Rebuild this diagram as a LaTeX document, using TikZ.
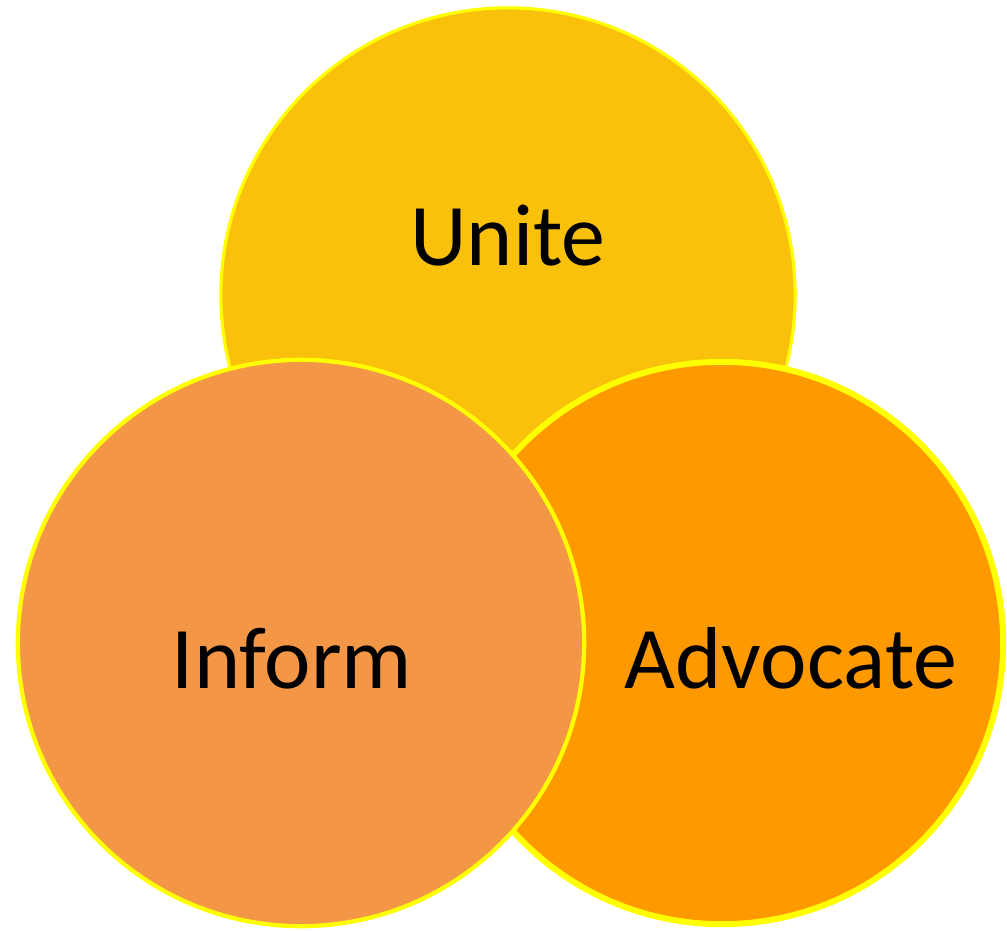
\documentclass[tikz,border=0pt]{standalone}
\usepackage{fontspec}
\setmainfont{Carlito}
\usetikzlibrary{positioning}

\definecolor{unitegold}{HTML}{F9C10B}
\definecolor{informorange}{HTML}{F39646}
\definecolor{advocateorange}{HTML}{FE9900}
\definecolor{rimyellow}{HTML}{FFFF00}

\tikzset{
    bubble/.style={circle, draw=rimyellow, inner sep=0pt},
    label text/.style={anchor=base, font=\fontsize{25}{30}\selectfont, text=black}
}

\begin{document}
\begin{tikzpicture}[x=0.01cm, y=-0.01cm]
    \useasboundingbox (0,0) rectangle (1007,930);

    % Unite circle (back)
    \node[bubble, fill=unitegold, line width=0.9pt, minimum size=5.74cm] (unite) at (508,295) {};
    \node[label text] (unitetext) at (508,265) {Unite};

    % Advocate circle
    \node[bubble, fill=advocateorange, line width=1.7pt, minimum size=5.62cm] (advocate) at (722,643) {};
    \node[label text] (advocatetext) at (791,688) {Advocate};

    % Inform circle (front)
    \node[bubble, fill=informorange, line width=1.2pt, minimum size=5.66cm] (inform) at (301,643) {};
    \node[label text] (informtext) at (292,688) {Inform};
\end{tikzpicture}
\end{document}
